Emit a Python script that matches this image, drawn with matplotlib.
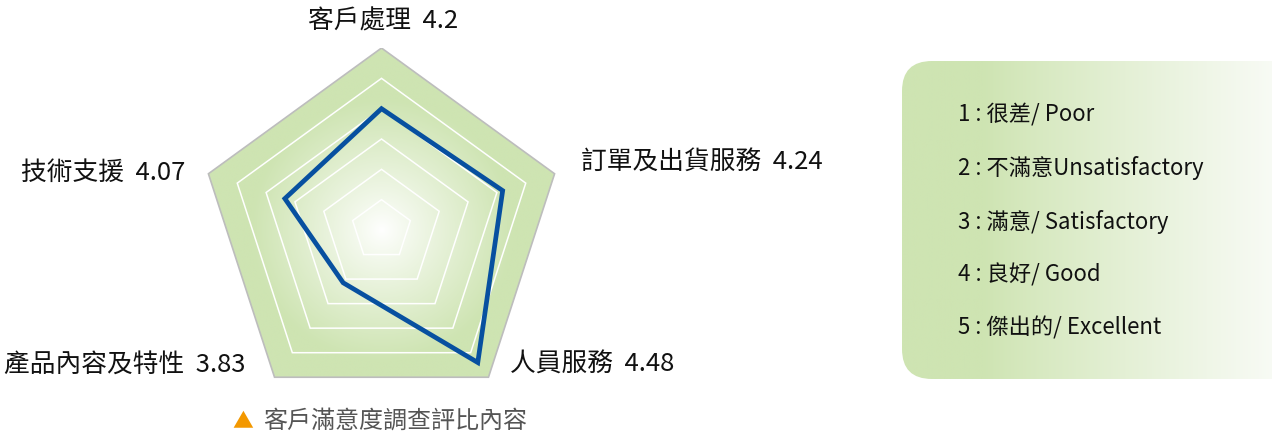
import numpy as np
import matplotlib.pyplot as plt
from matplotlib.patches import Polygon, FancyBboxPatch

plt.rcParams['font.family'] = ['Noto Sans CJK TC', 'DejaVu Sans']

# data
categories = ['客戶處理', '訂單及出貨服務', '人員服務', '產品內容及特性', '技術支援']
scores = [4.2, 4.24, 4.48, 3.83, 4.07]
r_min, r_max = 3.4, 4.6
ring_levels = [3.6, 3.8, 4.0, 4.2, 4.4]
scale_labels = ['1 : 很差/ Poor', '2 : 不滿意Unsatisfactory', '3 : 滿意/ Satisfactory',
                '4 : 良好/ Good', '5 : 傑出的/ Excellent']
caption = '客戶滿意度調查評比內容'

GREEN = np.array([206, 228, 178]) / 255
BLUE = '#0750a0'

W, H = 1272, 435
fig = plt.figure(figsize=(W / 100, H / 100), dpi=100)

# radar axes: centre at (381.5, 231) px, outer radius 182 px
cx, cy, R = 381.5, 231, 182
ax = fig.add_axes([(cx - R) / W, (H - cy - R) / H, 2 * R / W, 2 * R / H])
ax.set_xlim(-1, 1)
ax.set_ylim(-1, 1)
ax.set_aspect('equal')
ax.axis('off')

n = len(categories)
angles = np.pi / 2 - np.arange(n) * 2 * np.pi / n


def to_xy(vals):
    r = (np.asarray(vals) - r_min) / (r_max - r_min)
    return np.column_stack([r * np.cos(angles), r * np.sin(angles)])


outer = Polygon(to_xy([r_max] * n), closed=True, facecolor='none',
                edgecolor='#bdbdbd', lw=1.2, zorder=3)
ax.add_patch(outer)

# radial gradient fill clipped to outer pentagon
g = np.linspace(-1, 1, 500)
X, Y = np.meshgrid(g, g)
t = np.clip(np.hypot(X, Y) / 0.72, 0, 1)
t = t ** 0.9
img = (1 - t[..., None]) * np.ones(3) + t[..., None] * GREEN
im = ax.imshow(img, extent=(-1, 1, -1, 1), origin='lower', zorder=1)
im.set_clip_path(outer)

for lv in ring_levels:
    ax.add_patch(Polygon(to_xy([lv] * n), closed=True, facecolor='none',
                         edgecolor='white', lw=1.1, zorder=2))

pts = to_xy(scores)
ax.add_patch(Polygon(pts, closed=True, facecolor='none', edgecolor=BLUE,
                     lw=3.4, joinstyle='miter', zorder=4))

# axis labels: offsets in pixels from each outer vertex
vert = to_xy([r_max] * n)
offsets = [(2, 27, 'center'), (26, 12, 'left'), (22, 14, 'left'),
           (-29, 14, 'right'), (-23, 2, 'right')]
for (x, y), cat, val, (dx, dy, ha) in zip(vert, categories, scores, offsets):
    ax.annotate(f'{cat}  {val:g}', (x, y), xytext=(dx, dy), textcoords='offset pixels',
                ha=ha, va='center', fontsize=18.5, color='#111111', annotation_clip=False)

# caption
fig.text(243 / W, 1 - 421 / H, '▲', color='#f39800', fontsize=15, ha='center', va='center')
fig.text(263 / W, 1 - 421 / H, caption, color='#555555', fontsize=17.3, ha='left', va='center')

# scale legend box
lx0, ly0, lx1, ly1 = 902, 62, 1272, 380
lax = fig.add_axes([lx0 / W, 1 - ly1 / H, (lx1 - lx0) / W, (ly1 - ly0) / H])
lax.set_xlim(0, lx1 - lx0)
lax.set_ylim(ly1 - ly0, 0)
lax.axis('off')
box = FancyBboxPatch((0, 0), lx1 - lx0 + 60, ly1 - ly0,
                     boxstyle='round,pad=0,rounding_size=30',
                     facecolor='none', edgecolor='none')
lax.add_patch(box)
gx = np.linspace(0, 1, 400)
tt = np.clip((gx - 0.22) / 0.8, 0, 1) ** 0.9
grad = (1 - tt[None, :, None]) * GREEN + tt[None, :, None] * np.array([0.975, 0.985, 0.965])
gim = lax.imshow(np.repeat(grad, 2, axis=0), extent=(0, lx1 - lx0, ly1 - ly0, 0),
                 aspect='auto', zorder=1)
gim.set_clip_path(box)

for i, lab in enumerate(scale_labels):
    lax.text(56, 53 + i * 53.3, lab, fontsize=16, color='#111111',
             ha='left', va='center', zorder=3)

fig.savefig('out.png', dpi=100)
